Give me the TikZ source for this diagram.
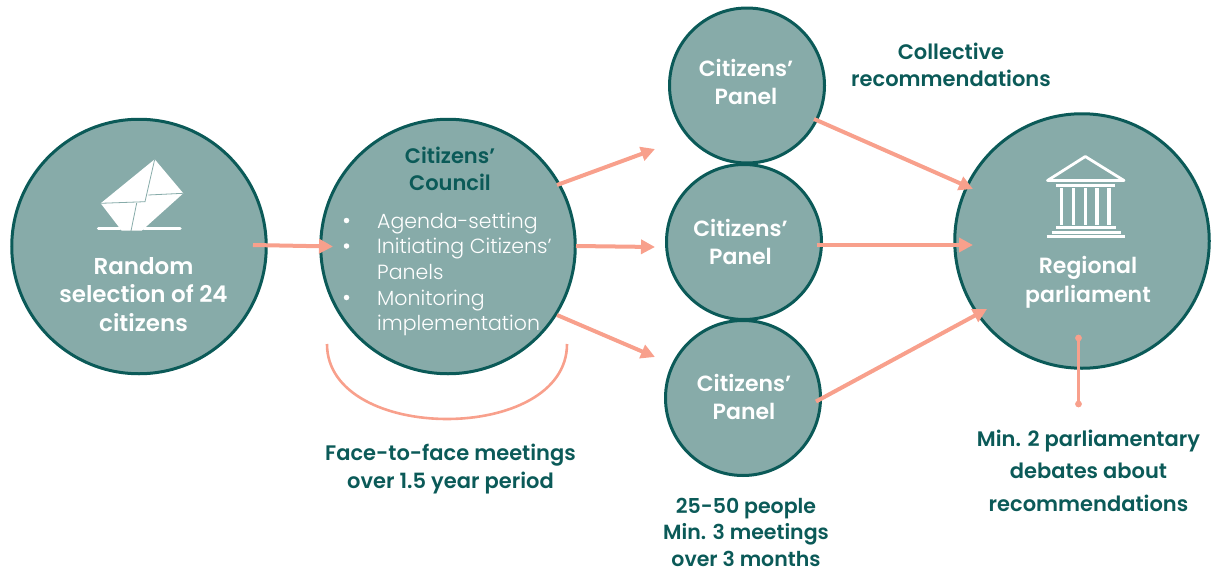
\documentclass[tikz,border=0pt]{standalone}
\usepackage{fontspec}
\usetikzlibrary{calc,arrows.meta}
\setmainfont{Poppins}
\newfontfamily\headf{Poppins SemiBold}
\newfontfamily\lightf{Poppins Light}
\definecolor{fillteal}{HTML}{87ABA9}
\definecolor{darkteal}{HTML}{0B5A58}
\definecolor{salmon}{HTML}{F8A08C}
\tikzset{
  bigc/.style={circle,draw=darkteal,fill=fillteal,line width=3pt,minimum size=254.5pt,inner sep=0pt,outer sep=0pt},
  smallc/.style={circle,draw=darkteal,fill=fillteal,line width=3pt,minimum size=155pt,inner sep=0pt,outer sep=0pt},
  flow/.style={draw=salmon,line width=4pt,-{Triangle[length=14pt,width=14pt,fill=salmon]}},
  whitehead/.style={text=white,font=\headf\fontsize{22}{28.8}\selectfont,align=center,inner sep=0pt},
  darkhead/.style={text=darkteal,font=\headf\fontsize{21}{27}\selectfont,align=center,inner sep=0pt},
  note/.style={text=darkteal,font=\headf\fontsize{21}{32.5}\selectfont,align=center,inner sep=0pt},
  listtext/.style={text=white,font=\lightf\fontsize{20.5}{25.6}\selectfont,anchor=base west,align=left,inner sep=0pt},
  bulletdot/.style={circle,fill=white,minimum size=5.5pt,inner sep=0pt},
  iconbar/.style={draw=white,line cap=round,line width=3.5pt},
  foldline/.style={draw=fillteal,line width=0.8pt},
}
\begin{document}
\begin{tikzpicture}[x=1pt,y=-1pt]
\useasboundingbox (0,0) rectangle (1211,573);
% circles
\node[bigc] (random) at (139,246.5) {};
\node[bigc] (council) at (448,246.5) {};
\node[smallc] (panelA) at (747,85.5) {};
\node[smallc] (panelB) at (744,242) {};
\node[smallc] (panelC) at (743,398) {};
\node[bigc] (parl) at (1082,241) {};
% free ends
\coordinate (endA) at (655,149);
\coordinate (endC) at (655,357);
\coordinate (arcL) at (327,344);
\coordinate (arcR) at (567,344);
\coordinate (dotEnd) at (1078.5,404);
% connectors
\draw[flow] ($(random)+(114,-1.5)$) -- ($(council)+(-115,0)$);
\draw[flow] ($(council)+(109,-61.5)$) -- (endA);
\draw[flow] ($(council)+(128,-0.5)$) -- ($(panelB)+(-89,5)$);
\draw[flow] ($(council)+(109,68.5)$) -- (endC);
\draw[flow] ($(panelA)+(67,33.5)$) -- ($(parl)+(-109,-52)$);
\draw[flow] ($(panelB)+(73,3)$) -- ($(parl)+(-109,4)$);
\draw[flow] ($(panelC)+(73,3.5)$) -- ($(parl)+(-95,68)$);
\draw[draw=salmon,line width=2.6pt] (arcL) .. controls (327,444) and (567,444) .. (arcR);
\draw[draw=salmon,line width=2.2pt] ($(parl)+(-3.5,97)$) -- (dotEnd);
\fill[salmon] ($(parl)+(-3.5,97)$) circle (3.4);
\fill[salmon] (dotEnd) circle (3.4);
% envelope icon
\fill[white] (154.7,159.3) -- (183.3,193.3) -- (141.7,230.7) -- (121.7,230.7) -- (100.7,203.3) -- cycle;
\draw[iconbar] (98.5,228.3) -- (120,228.3);
\draw[iconbar] (144,228.3) -- (180,228.3);
\draw[foldline] (154.7,159.3) -- (145,201.7) -- (100.7,203.3);
\draw[foldline] (183.3,193.3) -- (148.3,195);
\draw[foldline] (136.7,203) -- (131,231);
% temple icon
\draw[draw=white,line width=2.8pt,line join=round] (1085.3,156.5) -- (1124,180.5) -- (1047.5,180.5) -- cycle;
\draw[draw=white,line width=3pt] (1056,185) -- (1115,185);
\foreach \cx in {1061.7,1073.7,1085.3,1097,1109}{\draw[draw=white,line width=3.4pt] (\cx,188) -- (\cx,224.5);}
\draw[draw=white,line width=3pt] (1056,227.3) -- (1115.7,227.3);
\draw[draw=white,line width=3pt] (1051.7,232) -- (1121,232);
\draw[draw=white,line width=3pt] (1046.7,236.7) -- (1125,236.7);
% text in circles
\node[whitehead,font=\headf\fontsize{23}{28.8}\selectfont] (randomtext) at (143.5,294.5) {Random\\selection of 24\\citizens};
\node[darkhead] (counciltext) at (450,168.5) {Citizens’\\Council};
\node[whitehead] (panelAtext) at (746,82) {Citizens’\\Panel};
\node[whitehead] (panelBtext) at (740.5,242) {Citizens’\\Panel};
\node[whitehead] (panelCtext) at (744,397) {Citizens’\\Panel};
\node[whitehead] (parltext) at (1088,282) {Regional\\parliament};
% list in council
\foreach \n/\ly in {a/220.5,b/246,c/297.5}{\node[bulletdot] (bullet\n) at (346.5,\ly) {};}
\node[listtext] (li1) at (377,228) {Agenda-setting};
\node[listtext] (li2) at (377,253.5) {Initiating Citizens’};
\node[listtext] (li3) at (377,279) {Panels};
\node[listtext] (li4) at (377,305) {Monitoring};
\node[listtext] (li5) at (377,330.5) {implementation};
% notes
\node[note,font=\headf\fontsize{21}{27}\selectfont] (collective) at (951,64.5) {Collective\\recommendations};
\node[note,font=\headf\fontsize{21}{28}\selectfont] (meetings) at (450.5,469) {Face-to-face meetings\\over 1.5 year period};
\node[note,font=\headf\fontsize{20.5}{26.5}\selectfont] (people) at (746,532) {25-50 people\\Min. 3 meetings\\over 3 months};
\node[note] (debates) at (1088.5,470.5) {Min. 2 parliamentary\\debates about\\recommendations};
\end{tikzpicture}
\end{document}
